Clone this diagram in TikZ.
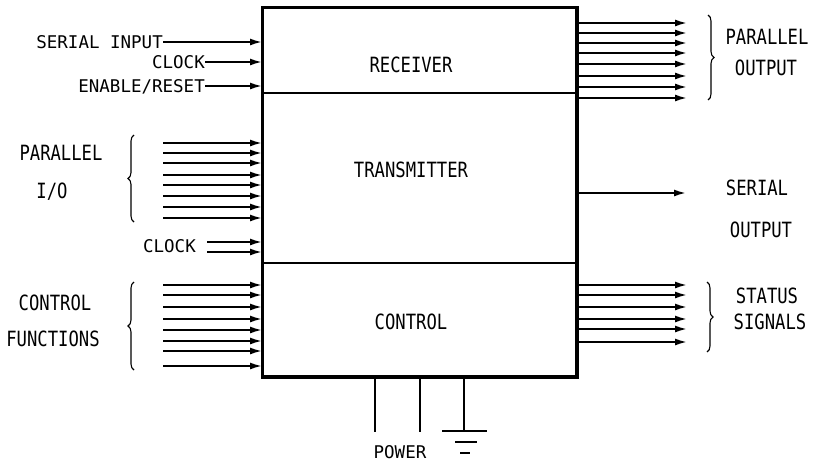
\documentclass[tikz,border=0pt]{standalone}
\usepackage{fontspec}
\usetikzlibrary{arrows.meta,decorations.pathreplacing}
\newfontfamily\smallletters{DejaVu Sans Mono}
\newfontfamily\bigletters[FakeStretch=0.82]{DejaVu Sans Mono}
\tikzset{
  unit/.style={
    draw,
    rectangle,
    line width=2pt,
    minimum width=313pt,
    inner sep=0pt
  },
  tag/.style={
    inner sep=0pt,
    text height=12.6pt,
    text depth=0pt,
    font=\smallletters\fontsize{17.5}{17.5}\selectfont
  },
  title/.style={
    inner sep=0pt,
    text height=15.3pt,
    text depth=0pt,
    font=\bigletters\fontsize{21}{21}\selectfont
  },
  wire/.style={
    line width=1.8pt,
    -{Latex[length=12pt,width=7pt]}
  },
  busbrace/.style={
    decorate,
    decoration={brace, amplitude=6pt},
    line width=1.1pt
  },
  lead/.style={
    line width=1.4pt
  }
}

\begin{document}
\begin{tikzpicture}[x=1pt, y=-1pt]
  \useasboundingbox (0,0) rectangle (818,463);

  \node[unit, minimum height=85pt] (rx) at (419.5,50.5) {};
  \node[unit, minimum height=170pt] (tx) at (419.5,178) {};
  \node[unit, minimum height=113pt] (ctl) at (419.5,319.5) {};
  \draw[line width=3pt] (rx.north west) rectangle (ctl.south east);

  \node[title] (rxname) at (411,65) {RECEIVER};
  \node[title] (txname) at (411,170) {TRANSMITTER};
  \node[title] (ctlname) at (411,322) {CONTROL};

  \node[tag, anchor=east] (sin) at (163,42) {SERIAL INPUT};
  \node[tag, anchor=east] (rclk) at (205,62) {CLOCK};
  \node[tag, anchor=east] (ena) at (205,86) {ENABLE/RESET};
  \draw[wire] (sin.east) -- (sin.east -| rx.west);
  \draw[wire] (rclk.east) -- (rclk.east -| rx.west);
  \draw[wire] (ena.east) -- (ena.east -| rx.west);

  \foreach \y [count=\i] in {23,33,43,53,64,76,87,98} {
    \coordinate (pout\i) at (687,\y);
    \draw[wire] (pout\i -| rx.east) -- (pout\i);
  }
  \draw[busbrace] (708,15) -- (708,100);
  \node[title] (poutname) at (767,37) {PARALLEL};
  \node[title] (poutname2) at (766,68) {OUTPUT};

  \foreach \y [count=\i] in {143,153,163,175,185,196,207,218} {
    \coordinate (pio\i) at (163,\y);
    \draw[wire] (pio\i) -- (pio\i -| tx.west);
  }
  \draw[busbrace] (134,222) -- (134,135);
  \node[title] (pioname) at (61,153) {PARALLEL};
  \node[title] (pioname2) at (52,191) {I/O};

  \node[tag, anchor=east] (tclk) at (196,246) {CLOCK};
  \coordinate (tclk1) at (207,242);
  \coordinate (tclk2) at (207,252);
  \draw[wire] (tclk1) -- (tclk1 -| tx.west);
  \draw[wire] (tclk2) -- (tclk2 -| tx.west);

  \coordinate (sout) at (686,193);
  \draw[wire] (sout -| tx.east) -- (sout);
  \node[title] (soutname) at (757,188) {SERIAL};
  \node[title] (soutname2) at (761,230) {OUTPUT};

  \foreach \y [count=\i] in {285,295,307,319,330,341,351,366} {
    \coordinate (cf\i) at (163,\y);
    \draw[wire] (cf\i) -- (cf\i -| ctl.west);
  }
  \draw[busbrace] (134,370) -- (134,282);
  \node[title] (cfname) at (55,303) {CONTROL};
  \node[title] (cfname2) at (53,339) {FUNCTIONS};

  \foreach \y [count=\i] in {285,295,307,319,329,342} {
    \coordinate (st\i) at (687,\y);
    \draw[wire] (st\i -| ctl.east) -- (st\i);
  }
  \draw[busbrace] (707,282) -- (707,352);
  \node[title] (stname) at (767,296) {STATUS};
  \node[title] (stname2) at (770,322) {SIGNALS};

  \coordinate (pw1) at (375,432);
  \coordinate (pw2) at (420,432);
  \coordinate (gnd) at (464,431);
  \draw[lead] (pw1 |- ctl.south) -- (pw1);
  \draw[lead] (pw2 |- ctl.south) -- (pw2);
  \draw[lead] (gnd |- ctl.south) -- (gnd);
  \draw[line width=2pt] ([xshift=-22pt]gnd) -- ([xshift=23pt]gnd);
  \draw[line width=2pt] ([xshift=-9pt, yshift=-11pt]gnd) -- ([xshift=13pt, yshift=-11pt]gnd);
  \draw[line width=2pt] ([xshift=-4pt, yshift=-22pt]gnd) -- ([xshift=6pt, yshift=-22pt]gnd);
  \node[tag] (pwname) at (400,452) {POWER};
\end{tikzpicture}
\end{document}
